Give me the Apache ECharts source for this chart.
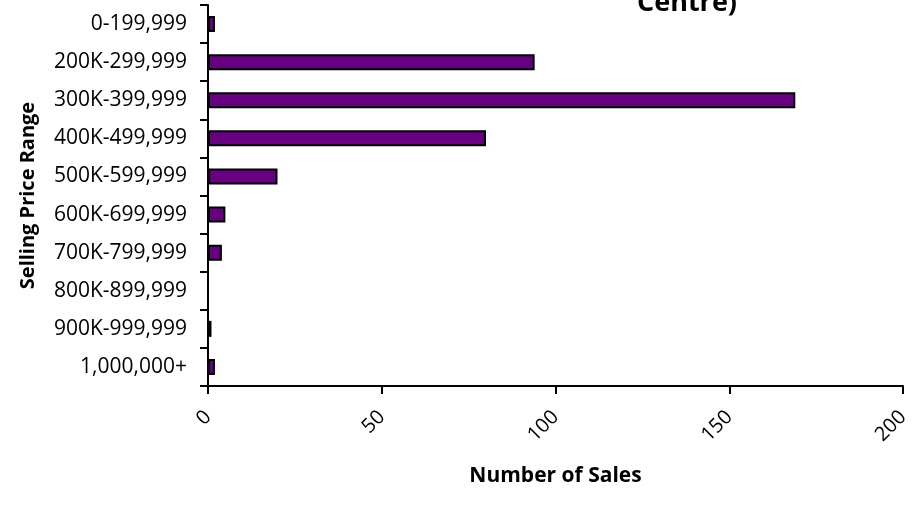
<!DOCTYPE html>
<html>
<head>
<meta charset="utf-8">
<script src="https://cdn.jsdelivr.net/npm/echarts@6/dist/echarts.min.js"></script>
<style>
  html, body { margin: 0; padding: 0; background: #fff; }
  #chart { width: 921px; height: 506px; }
</style>
</head>
<body>
<div id="chart"></div>
<script>
// Price bands, listed top to bottom
const priceRanges = [
  '0-199,999', '200K-299,999', '300K-399,999', '400K-499,999', '500K-599,999',
  '600K-699,999', '700K-799,999', '800K-899,999', '900K-999,999', '1,000,000+'
];
// Number of sales in each band
const salesCounts = [2, 94, 169, 80, 20, 5, 4, 0, 1, 2];
// Value-axis ticks
const xTicks = [0, 50, 100, 150, 200];

const FONT = '"Open Sans", "Noto Sans", sans-serif';

const chart = echarts.init(document.getElementById('chart'), null, { renderer: 'canvas' });

chart.setOption({
  animation: false,
  backgroundColor: '#ffffff',
  title: {
    text: 'Centre)',
    left: 632,
    top: -15,
    textStyle: { fontFamily: FONT, fontSize: 27, fontWeight: 'bold', color: '#000' }
  },
  grid: { left: 208, right: 18, top: 5, bottom: 120, containLabel: false },
  xAxis: {
    type: 'value',
    min: xTicks[0],
    max: xTicks[xTicks.length - 1],
    interval: xTicks[1] - xTicks[0],
    name: 'Number of Sales',
    nameLocation: 'middle',
    nameGap: 80,
    nameTextStyle: { fontFamily: FONT, fontSize: 21, fontWeight: 'bold', color: '#000' },
    axisLine: { show: true, lineStyle: { color: '#000', width: 2 } },
    axisTick: { show: true, length: 8, lineStyle: { color: '#000', width: 2 } },
    axisLabel: { rotate: 45, fontFamily: FONT, fontSize: 20, color: '#000', margin: 28 },
    splitLine: { show: false }
  },
  yAxis: {
    type: 'category',
    inverse: true,
    data: priceRanges,
    name: 'Selling Price Range',
    nameLocation: 'middle',
    nameGap: 170,
    nameRotate: 90,
    nameTextStyle: { fontFamily: FONT, fontSize: 20, fontWeight: 'bold', color: '#000' },
    axisLine: { show: true, lineStyle: { color: '#000', width: 2 } },
    axisTick: { show: true, length: 8, alignWithLabel: false, lineStyle: { color: '#000', width: 2 } },
    axisLabel: { fontFamily: FONT, fontSize: 21, color: '#000', margin: 21 },
    splitLine: { show: false }
  },
  series: [{
    type: 'bar',
    data: salesCounts.map(v => v === 0 ? { value: v, itemStyle: { borderWidth: 0 } } : v),
    barWidth: 16,
    itemStyle: { color: '#660080', borderColor: '#000', borderWidth: 2 }
  }]
});
</script>
</body>
</html>
